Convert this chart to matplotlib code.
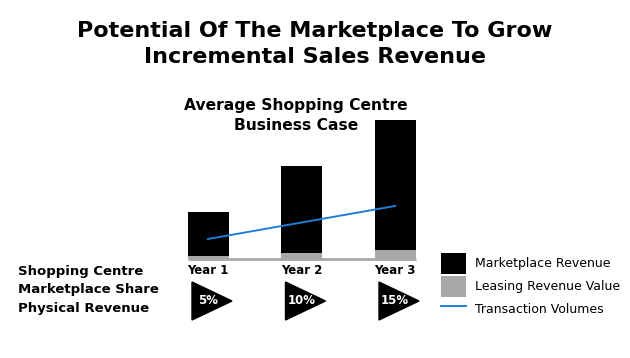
import numpy as np
import matplotlib
matplotlib.use("Agg")
import matplotlib.pyplot as plt
from matplotlib.patches import Polygon
import matplotlib.transforms as mtransforms

years = ["Year 1", "Year 2", "Year 3"]
marketplace = [44, 87, 130]
leasing = [3, 6, 9]
transactions = [20, 36.5, 53]
shares = ["5%", "10%", "15%"]

BLACK = "#000000"
GREY = "#a8a8a8"
BLUE = "#1f7fd6"

plt.rcParams["font.family"] = ["DejaVu Sans"]

W, H = 630, 358
fig = plt.figure(figsize=(W / 100, H / 100), dpi=100)

# axes placed in pixel terms: bar centres 208/301.5/395 px, baseline 259 px, top 120 px
px_per_unit = 93.5
left_px, right_px = 160, 440
ax = fig.add_axes([left_px / W, (H - 259) / H, (right_px - left_px) / W, 139 / H])
ax.set_xlim((left_px - 208) / px_per_unit, (right_px - 208) / px_per_unit)
ax.set_ylim(0, 139)
ax.axis("off")

x = np.arange(len(years))
w = 41 / px_per_unit
b1 = ax.bar(x, leasing, w, color=GREY, label="Leasing Revenue Value")
b2 = ax.bar(x, marketplace, w, bottom=leasing, color=BLACK, label="Marketplace Revenue")
ln, = ax.plot(x, transactions, color=BLUE, lw=1.4, label="Transaction Volumes")
ax.hlines(0, x[0] - w / 2, x[-1] + w / 2, color=GREY, lw=2, clip_on=False)

# titles
fig.text(0.5, 1 - 44 / H, "Potential Of The Marketplace To Grow\nIncremental Sales Revenue",
         ha="center", va="center", fontsize=16, fontweight="bold", linespacing=1.35)
fig.text(296 / W, 1 - 115.5 / H, "Average Shopping Centre\nBusiness Case",
         ha="center", va="center", fontsize=11.2, fontweight="bold", linespacing=1.45)

# row labels below bars
fig.text(18 / W, 1 - 290 / H, "Shopping Centre\nMarketplace Share\nPhysical Revenue",
         ha="left", va="center", fontsize=9.5, fontweight="bold", linespacing=1.55)

trans = mtransforms.blended_transform_factory(ax.transData, fig.transFigure)
for xi, yr, sh in zip(x, years, shares):
    ax.text(xi, 1 - 270 / H, yr, transform=trans, ha="center", va="center",
            fontsize=8.5, fontweight="bold")
    x0 = xi - 16 / px_per_unit
    x1 = xi + 24 / px_per_unit
    tri = Polygon([[x0, 1 - 282 / H], [x0, 1 - 320 / H], [x1, 1 - 301 / H]],
                  closed=True, transform=trans, color=BLACK, clip_on=False)
    ax.add_patch(tri)
    ax.text(x0 + 16 / px_per_unit, 1 - 301 / H, sh, transform=trans, ha="center",
            va="center", fontsize=8.5, fontweight="bold", color="white")

handles = [b2, b1, ln]
labels = [h.get_label() for h in handles]
fig.legend(handles, labels, loc="upper left", bbox_to_anchor=(441 / W, 1 - 253 / H),
           frameon=False, fontsize=9, handlelength=2.0, handleheight=2.2,
           handletextpad=0.7, labelspacing=0.16, borderpad=0, borderaxespad=0)

fig.savefig("out.png", dpi=100)
